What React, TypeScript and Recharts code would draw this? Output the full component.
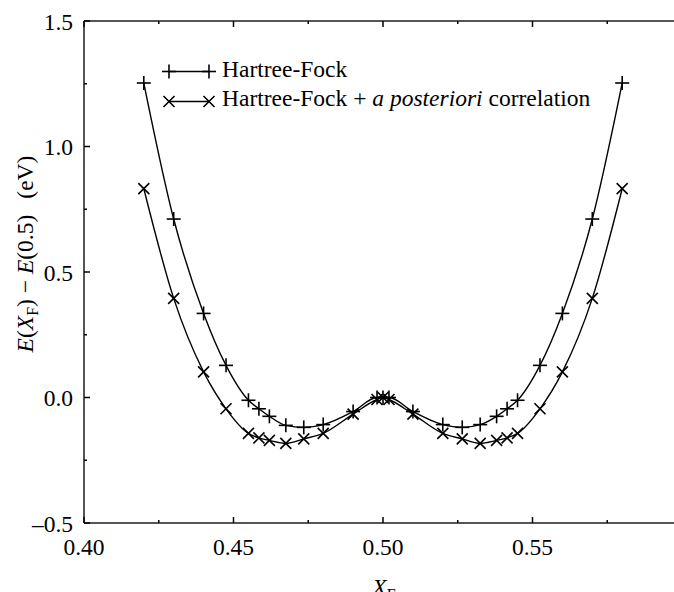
import React from 'react';
import { LineChart, Line, XAxis, YAxis } from 'recharts';

// Fermi level position X_F
const xValues = [
  0.42, 0.43, 0.44, 0.4475, 0.455, 0.4585, 0.462, 0.4675, 0.4735, 0.48, 0.49, 0.498, 0.5,
  0.502, 0.51, 0.52, 0.5265, 0.5325, 0.538, 0.5415, 0.545, 0.5525, 0.56, 0.57, 0.58,
];
// E(X_F) - E(0.5) in eV
const hartreeFock = [
  1.253, 0.711, 0.335, 0.128, -0.011, -0.045, -0.075, -0.111, -0.119, -0.108, -0.056, 0.0, 0.0,
  0.0, -0.056, -0.108, -0.119, -0.108, -0.075, -0.045, -0.011, 0.128, 0.335, 0.711, 1.253,
];
const hfCorrelation = [
  0.832, 0.395, 0.102, -0.045, -0.143, -0.161, -0.171, -0.183, -0.165, -0.143, -0.066, -0.008, 0.0,
  -0.008, -0.066, -0.143, -0.165, -0.183, -0.171, -0.161, -0.143, -0.045, 0.102, 0.395, 0.832,
];

const xTicks = [0.4, 0.425, 0.45, 0.475, 0.5, 0.525, 0.55, 0.575, 0.6];
const xLabels: Record<string, string> = { '0.4': '0.40', '0.45': '0.45', '0.5': '0.50', '0.55': '0.55' };
const yTicks = [-0.5, -0.25, 0, 0.25, 0.5, 0.75, 1, 1.25, 1.5];
const yLabels: Record<string, string> = { '-0.5': '\u20130.5', '0': '0.0', '0.5': '0.5', '1': '1.0', '1.5': '1.5' };

const data = xValues.map((x, i) => ({ x, hf: hartreeFock[i], corr: hfCorrelation[i] }));

const FONT = 'Liberation Serif';
const AXIS = '#555';
const txt = { fontFamily: FONT, fontSize: 23.5 };

const isMajor = (v: number, labels: Record<string, string>) => labels[String(v)] !== undefined;

const BottomTick = (props: any) => {
  const { x, y, payload } = props;
  const v = payload.value;
  const major = isMajor(v, xLabels) || Math.abs(v - 0.6) < 1e-9;
  return (
    <g>
      <line x1={x} x2={x} y1={y} y2={y - (major ? 6 : 3)} stroke="#000" strokeWidth={1.5} />
      {xLabels[String(v)] && (
        <text x={x} y={y + 32} textAnchor="middle" style={txt} fill="#000">
          {xLabels[String(v)]}
        </text>
      )}
    </g>
  );
};

const TopTick = (props: any) => {
  const { x, y, payload } = props;
  const v = payload.value;
  const major = isMajor(v, xLabels) || Math.abs(v - 0.6) < 1e-9;
  return <line x1={x} x2={x} y1={y} y2={y + (major ? 6 : 3)} stroke="#000" strokeWidth={1.5} />;
};

const LeftTick = (props: any) => {
  const { x, y, payload } = props;
  const v = payload.value;
  const label = yLabels[String(v)];
  return (
    <g>
      <line x1={x} x2={x + (label ? 6 : 3)} y1={y} y2={y} stroke="#000" strokeWidth={1.5} />
      {label && (
        <text x={x - 11} y={y + 8.5} textAnchor="end" style={txt} fill="#000">
          {label}
        </text>
      )}
    </g>
  );
};

const Plus = ({ cx, cy, s = 7 }: { cx: number; cy: number; s?: number }) => (
  <g stroke="#000" strokeWidth={1.6}>
    <line x1={cx - s} x2={cx + s} y1={cy} y2={cy} />
    <line x1={cx} x2={cx} y1={cy - s} y2={cy + s} />
  </g>
);

const Cross = ({ cx, cy, s = 5.5 }: { cx: number; cy: number; s?: number }) => (
  <g stroke="#000" strokeWidth={1.6}>
    <line x1={cx - s} x2={cx + s} y1={cy - s} y2={cy + s} />
    <line x1={cx - s} x2={cx + s} y1={cy + s} y2={cy - s} />
  </g>
);

export default function App() {
  return (
    <div
      style={{
        position: 'fixed',
        left: 0,
        top: 0,
        width: 674,
        height: 592,
        overflow: 'hidden',
        background: '#fff',
      }}
    >
      <LineChart width={682} height={592} data={data} margin={{ top: 20, right: 0, bottom: 0, left: 0 }}>
        <XAxis
          type="number"
          dataKey="x"
          xAxisId="bottom"
          domain={[0.4, 0.6]}
          ticks={xTicks}
          interval={0}
          height={69}
          tickSize={0}
          tickMargin={0}
          tickLine={false}
          axisLine={{ stroke: AXIS, strokeWidth: 2 }}
          tick={<BottomTick />}
        />
        <XAxis
          type="number"
          dataKey="x"
          xAxisId="top"
          orientation="top"
          domain={[0.4, 0.6]}
          ticks={xTicks}
          interval={0}
          height={1}
          tickSize={0}
          tickMargin={0}
          tickLine={false}
          axisLine={{ stroke: AXIS, strokeWidth: 2 }}
          tick={<TopTick />}
        />
        <YAxis
          type="number"
          domain={[-0.5, 1.5]}
          ticks={yTicks}
          interval={0}
          width={84}
          tickSize={0}
          tickMargin={0}
          tickLine={false}
          axisLine={{ stroke: AXIS, strokeWidth: 2 }}
          tick={<LeftTick />}
        />
        <Line
          xAxisId="bottom"
          type="monotone"
          dataKey="hf"
          stroke="#000"
          strokeWidth={1.4}
          isAnimationActive={false}
          dot={(p: any) => <Plus key={`hf-${p.index}`} cx={p.cx} cy={p.cy} />}
          activeDot={false}
        />
        <Line
          xAxisId="bottom"
          type="monotone"
          dataKey="corr"
          stroke="#000"
          strokeWidth={1.4}
          isAnimationActive={false}
          dot={(p: any) => <Cross key={`corr-${p.index}`} cx={p.cx} cy={p.cy} />}
          activeDot={false}
        />
      </LineChart>

      {/* axis titles and legend */}
      <svg
        width={674}
        height={592}
        style={{ position: 'absolute', left: 0, top: 0, pointerEvents: 'none' }}
        fill="#000"
      >
        <text transform="translate(33,254) rotate(-90)" textAnchor="middle" style={txt}>
          <tspan fontStyle="italic">E</tspan>
          <tspan>(</tspan>
          <tspan fontStyle="italic">X</tspan>
          <tspan fontSize={16} dy={5}>F</tspan>
          <tspan dy={-5}>) {'\u2212'} </tspan>
          <tspan fontStyle="italic">E</tspan>
          <tspan>(0.5)</tspan>
          <tspan dx={16}>(eV)</tspan>
        </text>
        <text x={384} y={595} textAnchor="middle" style={txt}>
          <tspan fontStyle="italic">X</tspan>
          <tspan fontSize={16} dy={5}>F</tspan>
        </text>

        <line x1={169} x2={209} y1={71.5} y2={71.5} stroke="#000" strokeWidth={1.4} />
        <Plus cx={169} cy={71.5} />
        <Plus cx={209} cy={71.5} />
        <text x={222} y={77} style={txt}>Hartree-Fock</text>

        <line x1={169} x2={209} y1={101.5} y2={101.5} stroke="#000" strokeWidth={1.4} />
        <Cross cx={169} cy={101.5} />
        <Cross cx={209} cy={101.5} />
        <text x={222} y={106} style={txt}>
          Hartree-Fock + <tspan fontStyle="italic">a posteriori</tspan> correlation
        </text>
      </svg>
    </div>
  );
}
